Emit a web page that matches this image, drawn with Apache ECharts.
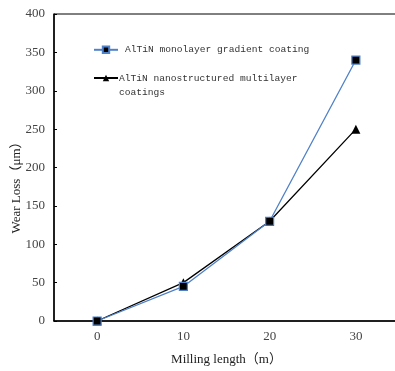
<!DOCTYPE html>
<html><head><meta charset="utf-8">
<script src="https://cdn.jsdelivr.net/npm/echarts@6/dist/echarts.min.js"></script>
<style>html,body{margin:0;padding:0;background:#fff}#c{width:395px;height:371px}</style>
</head><body><div id="c"></div>
<script>
const categories = ['0', '10', '20', '30'];
const monolayer = [0, 45, 130, 340];
const multilayer = [0, 50, 130, 250];
const nameMono = 'AlTiN monolayer gradient coating';
const nameMulti = 'AlTiN nanostructured multilayer coatings';
const serif = '"Liberation Serif","Times New Roman","Noto Sans CJK SC",serif';
const mono = '"Liberation Mono","DejaVu Sans Mono","Noto Sans CJK SC",monospace';

const chart = echarts.init(document.getElementById('c'));
chart.setOption({
  animation: false,
  backgroundColor: '#fff',
  grid: {left: 54, top: 14, right: -4, bottom: 50, containLabel: false, outerBoundsMode: 'none',
         show: true, borderColor: '#000', borderWidth: 1},
  legend: [
    {data: [nameMono], left: 93, top: 45, padding: 0, orient: 'vertical', itemWidth: 24, itemHeight: 8,
     textStyle: {fontFamily: mono, fontSize: 9.6, color: '#333', padding: [0,0,0,2]}},
    {data: [nameMulti], left: 93, top: 57, padding: 0, orient: 'vertical', itemWidth: 24, itemHeight: 8,
     formatter: function () { return '\nAlTiN nanostructured multilayer\ncoatings'; },
     textStyle: {fontFamily: mono, fontSize: 9.6, color: '#333', lineHeight: 14, padding: [0,0,0,-4]}}
  ],
  xAxis: {
    type: 'category', data: categories, boundaryGap: true,
    name: 'Milling length（m）', nameLocation: 'middle', nameGap: 32, nameMoveOverlap: false,
    nameTextStyle: {fontFamily: serif, fontSize: 13, color: '#222'},
    axisLine: {lineStyle: {color: '#000', width: 1.5}},
    axisTick: {inside: true, length: 4, lineStyle: {color: '#000'}},
    axisLabel: {fontFamily: serif, fontSize: 13, color: '#444', margin: 9},
    splitLine: {show: false}
  },
  yAxis: {
    type: 'value', min: 0, max: 400, interval: 50,
    name: 'Wear Loss（μm）', nameLocation: 'middle', nameGap: 31, nameMoveOverlap: false,
    nameTextStyle: {fontFamily: serif, fontSize: 13, color: '#222', padding: [0, 34, 0, 0]},
    axisLine: {show: true, lineStyle: {color: '#000', width: 1.5}},
    axisTick: {show: true, inside: true, length: 3, lineStyle: {color: '#000'}},
    axisLabel: {fontFamily: serif, fontSize: 13, color: '#444', margin: 9},
    splitLine: {show: false}
  },
  series: [
    {name: nameMono, type: 'line', data: monolayer, symbol: 'rect', symbolSize: 8,
     lineStyle: {color: '#4f81c9', width: 1.3},
     itemStyle: {color: '#000', borderColor: '#4f81c9', borderWidth: 1.2}, z: 3},
    {name: nameMulti, type: 'line', data: multilayer, symbol: 'triangle', symbolSize: 9,
     lineStyle: {color: '#000', width: 1.3},
     itemStyle: {color: '#000'}, z: 2}
  ]
});
</script></body></html>
